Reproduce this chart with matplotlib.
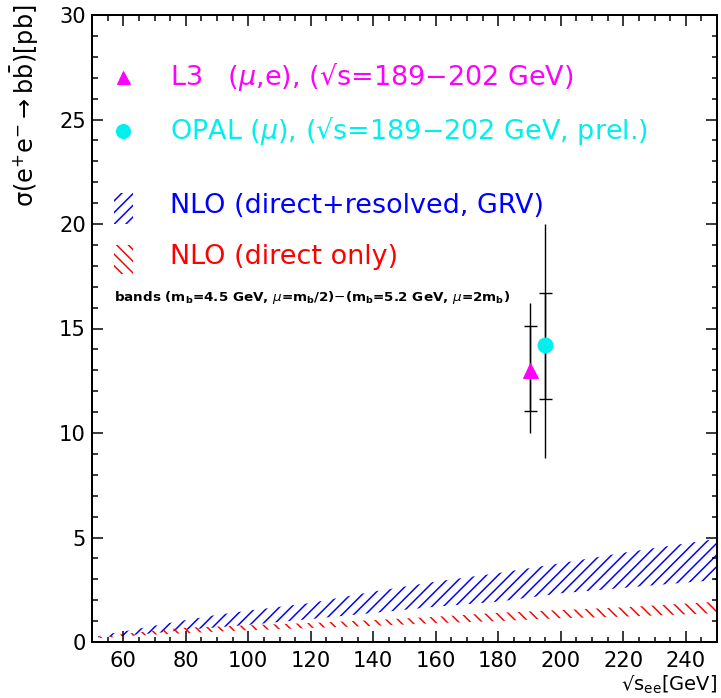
import matplotlib
matplotlib.use("Agg")
import matplotlib.pyplot as plt
import numpy as np

# ---------------- data ----------------
band_x = [52, 55, 60, 70, 80, 90, 100, 120, 140, 160, 180, 200, 220, 250]
blue_upper = [0.28, 0.38, 0.50, 0.78, 1.05, 1.30, 1.50, 1.87, 2.41, 2.89, 3.30, 3.77, 4.27, 4.94]
blue_lower = [0.20, 0.25, 0.30, 0.42, 0.58, 0.70, 0.82, 1.10, 1.39, 1.69, 1.93, 2.33, 2.59, 2.97]
red_upper = [0.25, 0.30, 0.38, 0.55, 0.69, 0.74, 0.80, 0.91, 1.05, 1.21, 1.40, 1.53, 1.66, 1.93]
red_lower = [0.18, 0.20, 0.27, 0.35, 0.42, 0.50, 0.56, 0.67, 0.77, 0.90, 1.00, 1.14, 1.21, 1.38]

l3_x, l3_y = 190.3, 13.0
l3_stat_lo, l3_stat_hi = 11.07, 15.1
l3_tot_lo, l3_tot_hi = 10.0, 16.2

opal_x, opal_y = 195.0, 14.2
opal_stat_lo, opal_stat_hi = 11.65, 16.7
opal_tot_lo, opal_tot_hi = 8.8, 20.0

xticks = [60, 80, 100, 120, 140, 160, 180, 200, 220, 240]
yticks = [0, 5, 10, 15, 20, 25, 30]

DPI = 70
W, H = 721, 698
def pt(px):
    return px * 72.0 / DPI

plt.rcParams['hatch.linewidth'] = pt(1.5)
plt.rcParams['font.family'] = ['DejaVu Sans']
plt.rcParams['mathtext.fontset'] = 'dejavusans'

fig = plt.figure(figsize=(W / DPI, H / DPI), dpi=DPI)
ax = fig.add_axes([92 / W, (H - 642) / H, (717 - 92) / W, (642 - 15) / H])

# bands
ax.fill_between(band_x, blue_lower, blue_upper, facecolor='none', edgecolor='#0000ff',
                hatch='//', linewidth=0)
ax.fill_between(band_x, red_lower, red_upper, facecolor='none', edgecolor='#ff0000',
                hatch='\\\\', linewidth=0)

# error bars: total (no caps) and statistical (with caps)
for x, y, slo, shi, tlo, thi in [(l3_x, l3_y, l3_stat_lo, l3_stat_hi, l3_tot_lo, l3_tot_hi),
                                 (opal_x, opal_y, opal_stat_lo, opal_stat_hi, opal_tot_lo, opal_tot_hi)]:
    ax.errorbar([x], [y], yerr=[[y - tlo], [thi - y]], fmt='none', ecolor='black',
                elinewidth=pt(1.4), capsize=0)
    ax.errorbar([x], [y], yerr=[[y - slo], [shi - y]], fmt='none', ecolor='black',
                elinewidth=pt(1.4), capsize=pt(6.5), capthick=pt(1.4))

ax.plot([l3_x], [l3_y], marker='^', color='#ff00ff', markersize=pt(15), linestyle='none', zorder=5)
ax.plot([opal_x], [opal_y], marker='o', color='#00f0f0', markersize=pt(15), linestyle='none', zorder=5)

# legend
ax.plot([60], [27.05], marker='^', color='#ff00ff', markersize=pt(13), linestyle='none')
ax.plot([60], [24.46], marker='o', color='#00f0f0', markersize=pt(14), linestyle='none')
ax.fill_between([57, 63], [20.0, 20.0], [21.5, 21.5], facecolor='none', edgecolor='#0000ff',
                hatch='//', linewidth=0)
ax.fill_between([57, 63], [17.6, 17.6], [19.0, 19.0], facecolor='none', edgecolor='#ff0000',
                hatch='\\\\', linewidth=0)

lfs = pt(27)
ax.text(75, 27.05, r'L3   ($\mu$,e), (√s=189$-$202 GeV)', color='#ff00ff', fontsize=lfs, va='center')
ax.text(75, 24.46, r'OPAL ($\mu$), (√s=189$-$202 GeV, prel.)', color='#00f0f0', fontsize=lfs, va='center')
ax.text(75, 20.86, 'NLO (direct+resolved, GRV)', color='#0000ff', fontsize=lfs, va='center')
ax.text(75, 18.4, 'NLO (direct only)', color='#ff0000', fontsize=lfs, va='center')
ax.text(57, 16.5, r'bands (m$_\mathbf{b}$=4.5 GeV, $\mu$=m$_\mathbf{b}$/2)$-$(m$_\mathbf{b}$=5.2 GeV, $\mu$=2m$_\mathbf{b}$)',
        color='black', fontsize=pt(13.5), fontweight='bold', va='center')

# axes
ax.set_xlim(50, 250)
ax.set_ylim(0, 30)
ax.set_xticks(xticks)
ax.set_yticks(yticks)
ax.set_xticks(np.arange(55, 250, 5), minor=True)
ax.set_yticks(np.arange(0, 30.01, 1), minor=True)
ax.tick_params(which='both', direction='in', top=True, right=True, width=pt(1.5))
ax.tick_params(which='major', length=pt(11), labelsize=pt(21))
ax.tick_params(which='minor', length=pt(5.5))
ax.tick_params(axis='x', which='major', pad=pt(9))
ax.tick_params(axis='y', which='major', pad=pt(6))
for s in ax.spines.values():
    s.set_linewidth(pt(2))

fig.text(25 / W, (H - 4) / H, 'σ(e$^{+}$e$^{-}$$\\rightarrow$b$\\bar{\\rm b}$)[pb]',
         rotation=90, ha='center', va='top', fontsize=pt(24))
fig.text(717 / W, (H - 685) / H, r'√s$_{\rm ee}$[GeV]', ha='right', va='center', fontsize=pt(19.5))

fig.savefig('out.png', dpi=DPI)
